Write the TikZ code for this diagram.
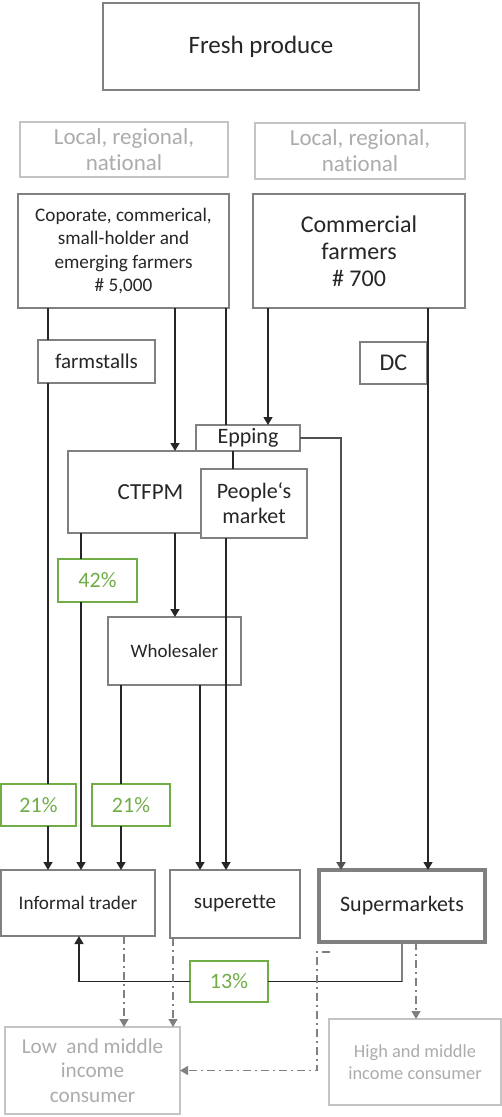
\documentclass[tikz,border=0pt]{standalone}
\usepackage{fontspec}
\setmainfont{Carlito}[Ligatures=NoCommon]
\usepackage{tikz}
\usetikzlibrary{arrows.meta}
\definecolor{boxgray}{RGB}{128,128,128}
\definecolor{palegray}{RGB}{196,196,196}
\definecolor{fadetext}{RGB}{172,172,172}
\definecolor{pctgreen}{RGB}{112,173,71}
\definecolor{linedark}{RGB}{38,38,38}

\begin{document}
\begin{tikzpicture}[
    x=0.5pt, y=-0.5pt,
    box/.style={rectangle, draw=boxgray, fill=white, line width=0.7pt, inner sep=0pt, outer sep=0pt, align=center, text=black!85},
    fadebox/.style={box, draw=palegray, text=fadetext},
    pct/.style={box, draw=pctgreen, text=pctgreen, font=\fontsize{11}{13}\selectfont},
    link/.style={draw=linedark, line width=0.7pt},
    arrow/.style={link, -{Triangle[length=4pt, width=4.5pt]}},
    flow/.style={draw=boxgray, line width=0.6pt, dash pattern=on 4pt off 2pt on 1pt off 2pt, -{Triangle[length=4pt, width=4.5pt]}}
]
\useasboundingbox (0,0) rectangle (502,1117);

% lanes for the vertical connectors
\foreach \n/\x in {A/48, B/81, C/175, D/226, E/268, F/341, G/428, H/121, I/200, J/402, K/79, L/124, M/317, N/173, P/416}
    \coordinate (lane\n) at (\x,0);

% Top: product and sources
\node[box, minimum width=158pt, minimum height=43.5pt, font=\fontsize{12.5}{15}\selectfont] (fresh) at (261,46.5) {Fresh produce};
\node[fadebox, minimum width=104pt, minimum height=27.5pt, font=\fontsize{11.5}{13}\selectfont] (localL) at (124,149.5) {Local, regional,\\national};
\node[fadebox, minimum width=105pt, minimum height=28pt, font=\fontsize{11.5}{13}\selectfont] (localR) at (360,151) {Local, regional,\\national};
\node[box, minimum width=105.5pt, minimum height=57pt, font=\fontsize{9.6}{11.7}\selectfont] (corp) at (123.5,251) {Coporate, commerical,\\small-holder and\\emerging farmers\\\# 5,000};
\node[box, minimum width=106pt, minimum height=57pt, font=\fontsize{12}{13.5}\selectfont] (comm) at (359,251) {Commercial\\farmers\\\# 700};

% Middle: markets and wholesale
\node[box, minimum width=58.5pt, minimum height=21.5pt, font=\fontsize{10.5}{12}\selectfont] (farmstalls) at (96.5,361.5) {farmstalls};
\node[box, minimum width=33.5pt, minimum height=21pt, font=\fontsize{12}{14}\selectfont] (dc) at (393.5,363) {DC};
\node[box, minimum width=82.5pt, minimum height=41pt, font=\fontsize{11.5}{13}\selectfont] (ctfpm) at (150.5,492) {CTFPM};
\node[box, minimum width=53pt, minimum height=34.5pt, font=\fontsize{11}{12.5}\selectfont] (people) at (254,503.5) {People‘s\\market};
\node[box, minimum width=52pt, minimum height=13pt, font=\fontsize{11}{12}\selectfont] (epping) at (248,438) {Epping};
\node[box, minimum width=66.5pt, minimum height=34pt, font=\fontsize{9.5}{11}\selectfont] (wholesaler) at (174.5,651) {Wholesaler};
\node[pct, minimum width=39.5pt, minimum height=21.5pt] (p42) at (97.5,580.5) {42\%};
\node[pct, minimum width=37.5pt, minimum height=21pt] (p21a) at (38.5,805) {21\%};
\node[pct, minimum width=39pt, minimum height=21pt] (p21b) at (131,805) {21\%};

% Retail
\node[box, minimum width=77pt, minimum height=33pt, font=\fontsize{9.6}{11}\selectfont] (informal) at (78,903) {Informal trader};
\node[box, minimum width=65pt, minimum height=34pt, font=\fontsize{10.5}{12}\selectfont] (superette) at (235,904) {superette};
\node[box, line width=2pt, minimum width=83pt, minimum height=36pt, font=\fontsize{11}{13}\selectfont] (supermkt) at (402,906) {Supermarkets};
\node[pct, minimum width=39pt, minimum height=20.5pt] (p13) at (229,981.5) {13\%};

% Consumers
\node[fadebox, minimum width=87.5pt, minimum height=43.5pt, font=\fontsize{10.6}{12.3}\selectfont] (lowinc) at (92.5,1070.5) {Low~ and middle\\income\\consumer};
\node[fadebox, minimum width=86pt, minimum height=43pt, font=\fontsize{9.2}{11.3}\selectfont] (highinc) at (415,1062) {High and middle\\income consumer};

% Small and emerging farmers
\draw[link] (corp.south -| laneA) -- (farmstalls.north -| laneA);
\draw[link] (farmstalls.south -| laneA) -- (p21a.north -| laneA);
\draw[arrow] (p21a.south -| laneA) -- (informal.north -| laneA);
\draw[arrow] (corp.south -| laneC) -- (ctfpm.north -| laneC);
\draw[link] (corp.south -| laneD) -- (epping.north -| laneD);
\draw[link] (epping.south -| ctfpm.east) -- (people.north -| ctfpm.east);
\draw[arrow] (people.south -| laneD) -- (superette.north -| laneD);

% Commercial farmers (the DC lane runs along its right side)
\draw[arrow] (comm.south -| laneG) -- (supermkt.north -| laneG);
\draw[arrow] (comm.south -| laneE) -- (epping.north -| laneE);
\draw[arrow, line width=1pt, draw=linedark!80] (epping.east) -| (supermkt.north -| laneF);

% Market and wholesale flows
\draw[link] (ctfpm.south -| laneB) -- (p42.north -| laneB);
\draw[arrow] (p42.south -| laneB) -- (informal.north -| laneB);
\draw[arrow] (ctfpm.south -| laneC) -- (wholesaler.north -| laneC);
\draw[link] (wholesaler.south -| laneH) -- (p21b.north -| laneH);
\draw[arrow] (p21b.south -| laneH) -- (informal.north -| laneH);
\draw[arrow] (wholesaler.south -| laneI) -- (superette.north -| laneI);

% Supermarkets back to informal traders
\draw[link, draw=boxgray, line width=1.2pt] (supermkt.south -| laneJ) -- (p13.east -| laneJ);
\draw[link] (p13.east -| laneJ) -- (p13.east);
\draw[arrow] (p13.west) -| (informal.south -| laneK);

% To consumers
\draw[flow] (informal.south -| laneL) -- (lowinc.north -| laneL);
\draw[flow] (superette.south -| laneN) -- (lowinc.north -| laneN);
\draw[flow] (supermkt.south -| laneP) -- (highinc.north -| laneP);
\coordinate (smtap) at (330,952);
\draw[flow] (smtap) -- (smtap -| laneM) |- (lowinc.east);

\end{tikzpicture}
\end{document}
